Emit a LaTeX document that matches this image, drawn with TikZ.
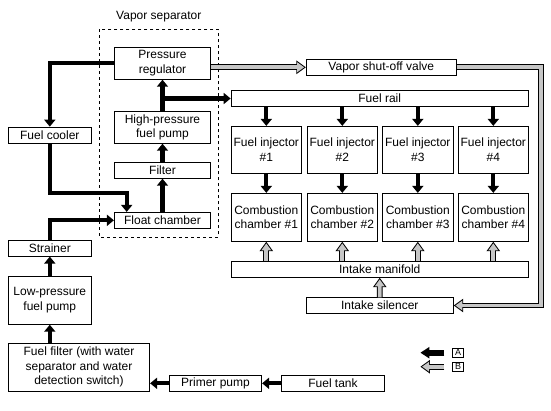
\documentclass[tikz,border=0pt]{standalone}
\usepackage{fontspec}
\setmainfont{Liberation Sans}
\usetikzlibrary{arrows.meta}

\tikzset{
  box/.style={draw, line width=0.8pt, align=center, inner sep=0pt,
    font=\fontsize{12}{14.5}\selectfont},
  fuel/.style={line width=4.2pt, -{Triangle[length=7pt,width=11pt]}},
  vapor/.style={line width=3.8pt, draw=gray!45, line join=miter,
    -{Triangle[length=7pt,width=9.5pt]}, shorten >=1.7pt,
    preaction={draw=black, line width=5.8pt, shorten >=0pt,
      -{Triangle[length=9.5pt,width=13pt]}}}
}

\begin{document}
\begin{tikzpicture}[x=1pt,y=-1pt]
    \useasboundingbox (0,0) rectangle (551,410);
    % Vapor separator
    \draw[dashed, line width=0.7pt] (99.3,29.3) rectangle (218.3,237.3);
    \node[font=\fontsize{12}{14.5}\selectfont] (seplabel) at (158.8,17) {Vapor separator};
    \node[box, minimum width=96.4, minimum height=32] (preg) at (162.5,63.3) {Pressure\\regulator};
    \node[box, minimum width=96.4, minimum height=32] (hpp) at (162.5,127.3) {High-pressure\\fuel pump};
    \node[box, minimum width=96.4, minimum height=16] (filt) at (162.5,170.3) {Filter};
    \node[box, minimum width=96.4, minimum height=16] (float) at (162.5,220.3) {Float chamber};
    % linke Seite
    \node[box, minimum width=83, minimum height=16.3] (cooler) at (49.8,135.2) {Fuel cooler};
    \node[box, minimum width=83, minimum height=16] (strainer) at (49.8,248.2) {Strainer};
    \node[box, minimum width=83, minimum height=48] (lpp) at (49.8,300.3) {Low-pressure\\fuel pump};
    \node[box, minimum width=141.4, minimum height=48] (ffilt) at (79,367.3) {Fuel filter (with water\\separator and water\\detection switch)};
    \node[box, minimum width=92.4, minimum height=16] (primer) at (215.5,383.3) {Primer pump};
    \node[box, minimum width=102.6, minimum height=16] (tank) at (333,383.3) {Fuel tank};
    % rechte Seite
    \node[box, minimum width=150, minimum height=16] (vsv) at (381.3,67.3) {Vapor shut-off valve};
    \node[box, minimum width=297.3, minimum height=15.6] (rail) at (379.7,98.5) {Fuel rail};
    \node[box, minimum width=297.3, minimum height=16] (manifold) at (379.7,269.3) {Intake manifold};
    \node[box, minimum width=147, minimum height=15.6] (silencer) at (379.8,305.5) {Intake silencer};
    \foreach \i/\x in {1/266.3, 2/342.3, 3/417.8, 4/493.3}
    {
      \node[box, minimum width=70.7, minimum height=47] (inj\i) at (\x,149.8) {Fuel injector\\\#\i};
      \node[box, minimum width=70.7, minimum height=48] (comb\i) at (\x,217.3) {Combustion\\chamber \#\i};
      \draw[fuel] (inj\i.north |- rail.south) -- (inj\i.north);  %Schiene -> Injektor
      \draw[fuel] (inj\i.south) -- (comb\i.north);
      \draw[vapor] (comb\i.south |- manifold.north) -- (comb\i.south);  %Ansaugluft
    };
    % Kraftstoff
    \coordinate (bend) at (126.7,192.7);
    \coordinate (tee) at (hpp.north |- rail.west);
    \draw[fuel] (tank.west) -- (primer.east);
    \draw[fuel] (primer.west) -- (primer.west -| ffilt.east);
    \draw[fuel] (ffilt.north -| lpp.south) -- (lpp.south);
    \draw[fuel] (lpp.north) -- (strainer.south);
    \draw[fuel] (strainer.north) |- (float.west);
    \draw[fuel] (float.north) -- (filt.south);
    \draw[fuel] (filt.north) -- (hpp.south);
    \draw[fuel] (hpp.north) -- (preg.south);
    \draw[fuel] (tee) -- (rail.west);
    \draw[fuel] (preg.west) -| (cooler.north);
    \draw[fuel] (cooler.south) |- (bend) -- (float.north -| bend);
    % Dampf
    \coordinate (vcorner) at (541,0);
    \draw[vapor] (preg.east |- vsv.west) -- (vsv.west);
    \draw[vapor] (vsv.east) -| (vcorner |- silencer.east) -- (silencer.east);
    \draw[vapor] (silencer.north) -- (manifold.south);
    % Legende
    \node[draw, line width=0.6pt, inner sep=0pt, minimum width=10.6, minimum height=9,
      font=\fontsize{9}{9}\selectfont] (legA) at (458,352.7) {A};
    \node[draw, line width=0.6pt, inner sep=0pt, minimum width=10.6, minimum height=9,
      font=\fontsize{9}{9}\selectfont] (legB) at (458,366.7) {B};
    \draw[line width=6pt, -{Triangle[length=9pt,width=11pt]}] ([xshift=-8pt]legA.west) -- ([xshift=-32pt]legA.west);
    \draw[vapor, line width=4pt, preaction={line width=6pt}] ([xshift=-8pt]legB.west) -- ([xshift=-32pt]legB.west);
\end{tikzpicture}
\end{document}
